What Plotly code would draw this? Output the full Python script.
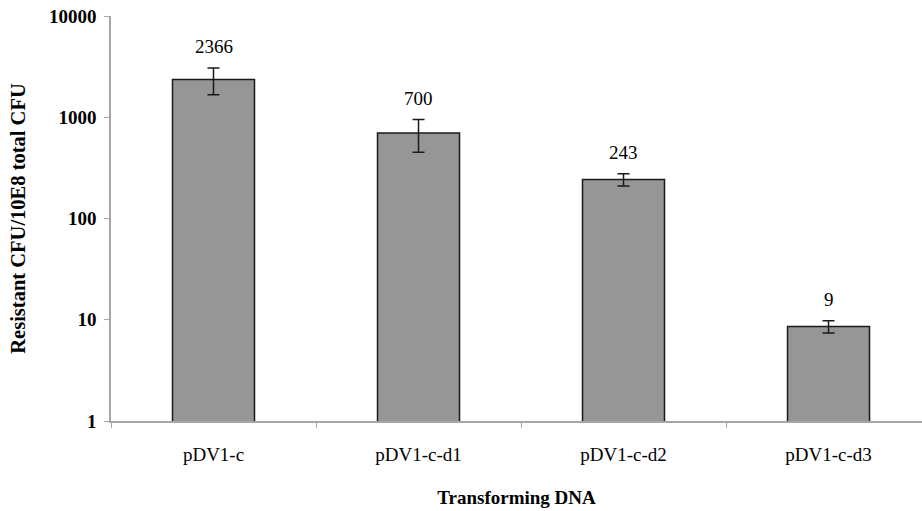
import math
import plotly.graph_objects as go

categories = ["pDV1-c", "pDV1-c-d1", "pDV1-c-d2", "pDV1-c-d3"]
values = [2366, 700, 243, 8.6]
errors = [700, 250, 33, 1.2]
labels = ["2366", "700", "243", "9"]
ytickvals = [1, 10, 100, 1000, 10000]
yticktext = ["1", "10", "100", "1000", "10000"]

FONT = "Liberation Serif, Times New Roman, serif"

fig = go.Figure()
fig.add_trace(go.Bar(
    x=categories, y=values, width=0.4,
    marker=dict(color="#969696", line=dict(color="#1a1a1a", width=1.5)),
    error_y=dict(type="data", array=errors, visible=True,
                 color="#1a1a1a", thickness=1.5, width=6),
    hoverinfo="skip",
))

for c, v, e, t in zip(categories, values, errors, labels):
    fig.add_annotation(x=c, y=math.log10(v + e), xref="x", yref="y", text=t,
                       showarrow=False, yanchor="bottom", yshift=9,
                       font=dict(family=FONT, size=19, color="#000"))

fig.update_layout(
    width=922, height=511,
    margin=dict(l=111, r=0, t=16, b=90),
    paper_bgcolor="white", plot_bgcolor="white",
    showlegend=False,
    font=dict(family=FONT, size=19, color="#000"),
    bargap=0.6,
)
fig.update_xaxes(
    range=[-0.5, 3.456], showline=True, linecolor="#a6a6a6", linewidth=1.5,
    ticks="outside", tickson="boundaries", ticklen=5, tickcolor="#a6a6a6",
    showgrid=False, ticklabelstandoff=15,
    tickfont=dict(family=FONT, size=19, color="#000"),
    title=dict(text="<b>Transforming DNA</b>", standoff=27,
               font=dict(family=FONT, size=19, color="#000")),
)
fig.update_yaxes(
    type="log", range=[0, 4], showline=True, linecolor="#a6a6a6", linewidth=1.5,
    ticks="outside", ticklen=5, tickcolor="#a6a6a6", showgrid=False,
    tickvals=ytickvals, ticktext=["<b>%s</b>" % s for s in yticktext],
    tickfont=dict(family=FONT, size=19, color="#000"), ticklabelstandoff=4,
    title=dict(text="<b>Resistant CFU/10E8 total CFU</b>", standoff=18,
               font=dict(family=FONT, size=20.5, color="#000")),
    zeroline=False,
)

fig.write_html("out.html")
